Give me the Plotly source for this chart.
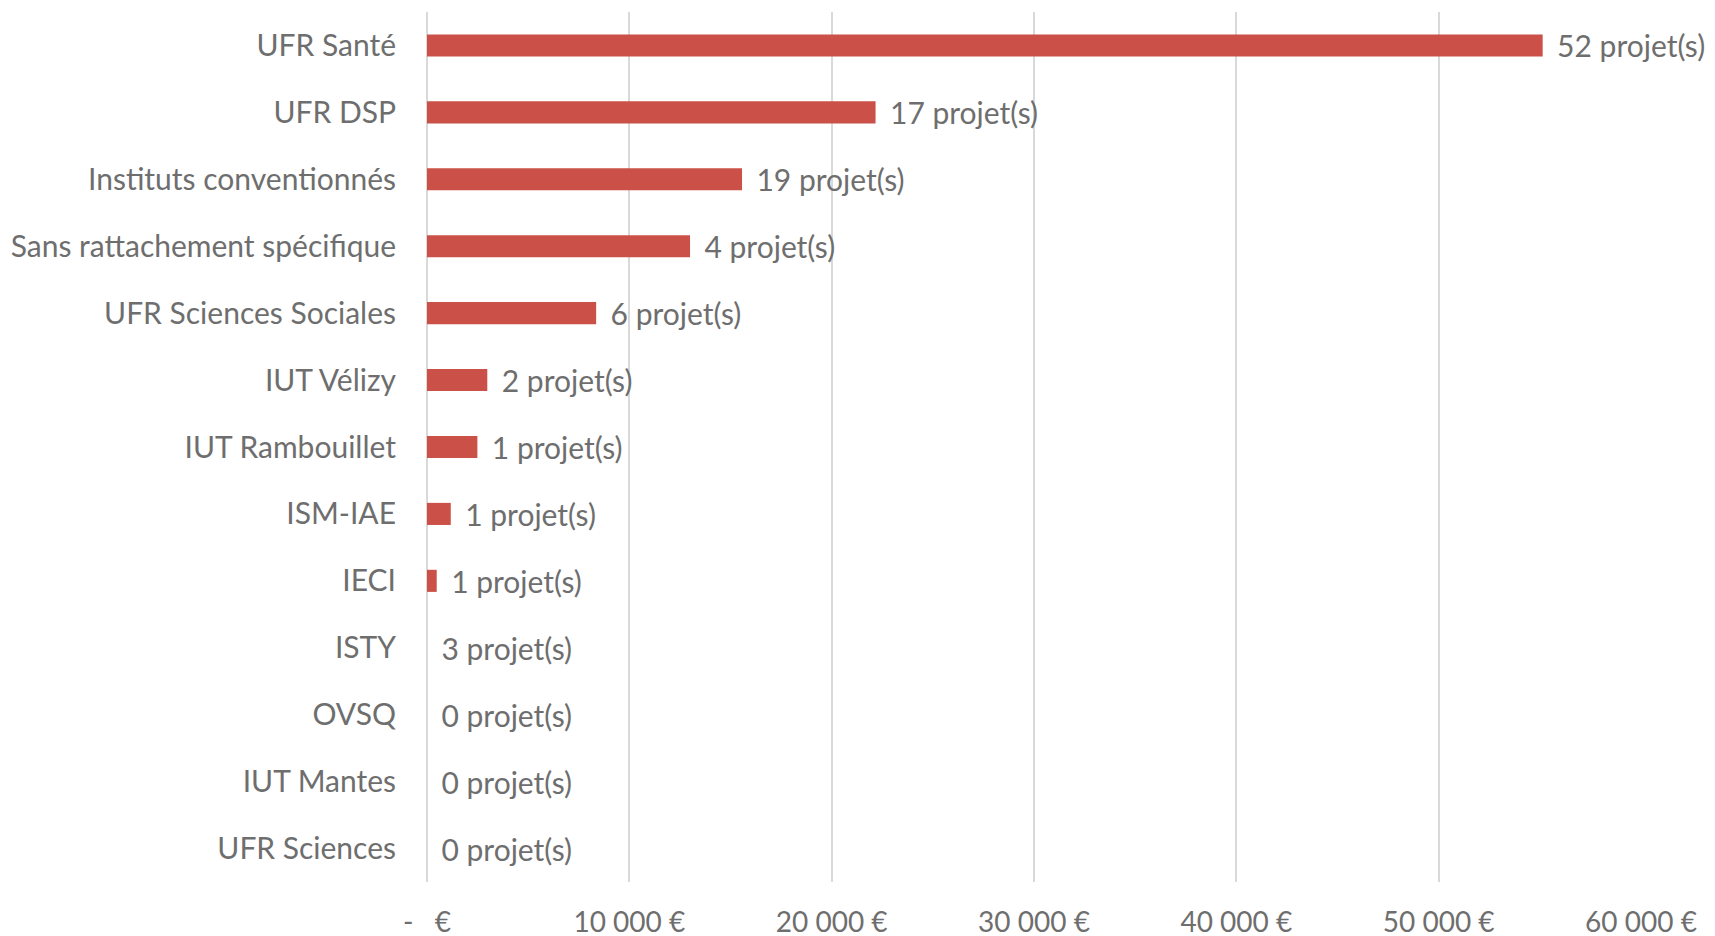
import plotly.graph_objects as go

categories = ["UFR Santé", "UFR DSP", "Instituts conventionnés", "Sans rattachement spécifique",
              "UFR Sciences Sociales", "IUT Vélizy", "IUT Rambouillet", "ISM-IAE", "IECI",
              "ISTY", "OVSQ", "IUT Mantes", "UFR Sciences"]
montants = [55140, 22170, 15570, 13000, 8360, 2980, 2490, 1175, 480, 0, 0, 0, 0]
projets = [52, 17, 19, 4, 6, 2, 1, 1, 1, 3, 0, 0, 0]
tick_vals = [0, 10000, 20000, 30000, 40000, 50000, 60000]
tick_text = ["-\u00a0\u00a0\u00a0€", "10 000 €", "20 000 €", "30 000 €", "40 000 €", "50 000 €", "60 000 €"]

labels = ["\u00a0\u2009" + f"{p} projet(s)" for p in projets]

FONT = "Lato"
GREY = "#6e6e6e"

fig = go.Figure(go.Bar(
    x=montants, y=categories, orientation="h",
    marker=dict(color="#CB5148", line=dict(width=0)),
    text=labels, textposition="outside", cliponaxis=False, constraintext="none",
    textfont=dict(family=FONT, size=30, color=GREY),
    hoverinfo="skip",
))

fig.update_layout(
    width=1715, height=936,
    margin=dict(l=419, r=82, t=4, b=62),
    paper_bgcolor="white", plot_bgcolor="white",
    bargap=0.67, showlegend=False,
    font=dict(family=FONT, size=30, color=GREY),
    xaxis=dict(range=[0, 60000], tickvals=tick_vals, ticktext=tick_text,
               showgrid=True, gridcolor="#d9d9d9", gridwidth=1.5,
               zeroline=True, zerolinecolor="#d9d9d9", zerolinewidth=1.5,
               showline=False, ticks="", ticklabelstandoff=21, automargin=False,
               tickfont=dict(family=FONT, size=28, color=GREY), fixedrange=True),
    yaxis=dict(categoryorder="array", categoryarray=categories, autorange="reversed",
               showgrid=False, zeroline=False, showline=False, ticks="",
               ticklabelstandoff=30, automargin=False,
               tickfont=dict(family=FONT, size=30, color=GREY), fixedrange=True),
)

fig.write_html("out.html", config={"displayModeBar": False})
